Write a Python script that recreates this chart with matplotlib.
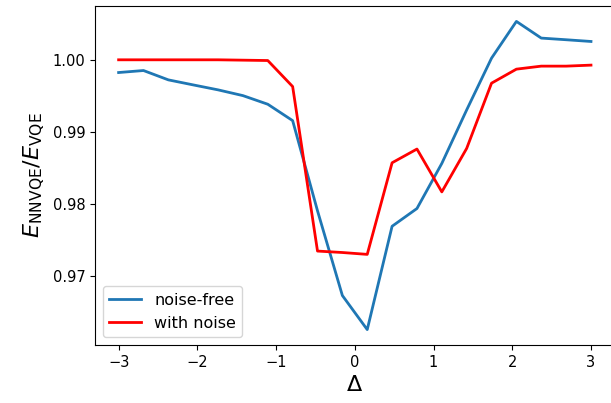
import numpy as np
import matplotlib
matplotlib.use("Agg")
import matplotlib.pyplot as plt

delta = np.linspace(-3, 3, 20)

noise_free = [0.99823, 0.99851, 0.99721, 0.99651, 0.99582, 0.99502, 0.99382,
              0.99154, 0.97900, 0.96722, 0.96248, 0.97685, 0.97932, 0.98559,
              0.99303, 1.00023, 1.00534, 1.00302, 1.00279, 1.00255]

with_noise = [1.00000, 1.00000, 1.00000, 1.00000, 1.00000, 0.99995, 0.99990,
              0.99628, 0.97340, 0.97320, 0.97294, 0.98568, 0.98759, 0.98163,
              0.98768, 0.99675, 0.99870, 0.99912, 0.99912, 0.99926]

dpi = 100
fig = plt.figure(figsize=(611 / dpi, 403 / dpi), dpi=dpi)
ax = fig.add_axes([95 / 611, 58 / 403, 519.6 / 611, 339 / 403])

ax.plot(delta, noise_free, color="tab:blue", linewidth=2, label="noise-free")
ax.plot(delta, with_noise, color="red", linewidth=2, label="with noise")

ax.set_yticks([0.97, 0.98, 0.99, 1.00])
ax.tick_params(labelsize=10.5)
ax.set_xlabel(r"$\Delta$", fontsize=16)
ax.set_ylabel(r"$E_{\mathrm{NNVQE}}/E_{\mathrm{VQE}}$", fontsize=16)
ax.legend(loc="lower left", fontsize=11.5)

fig.savefig("out.png", dpi=dpi)
